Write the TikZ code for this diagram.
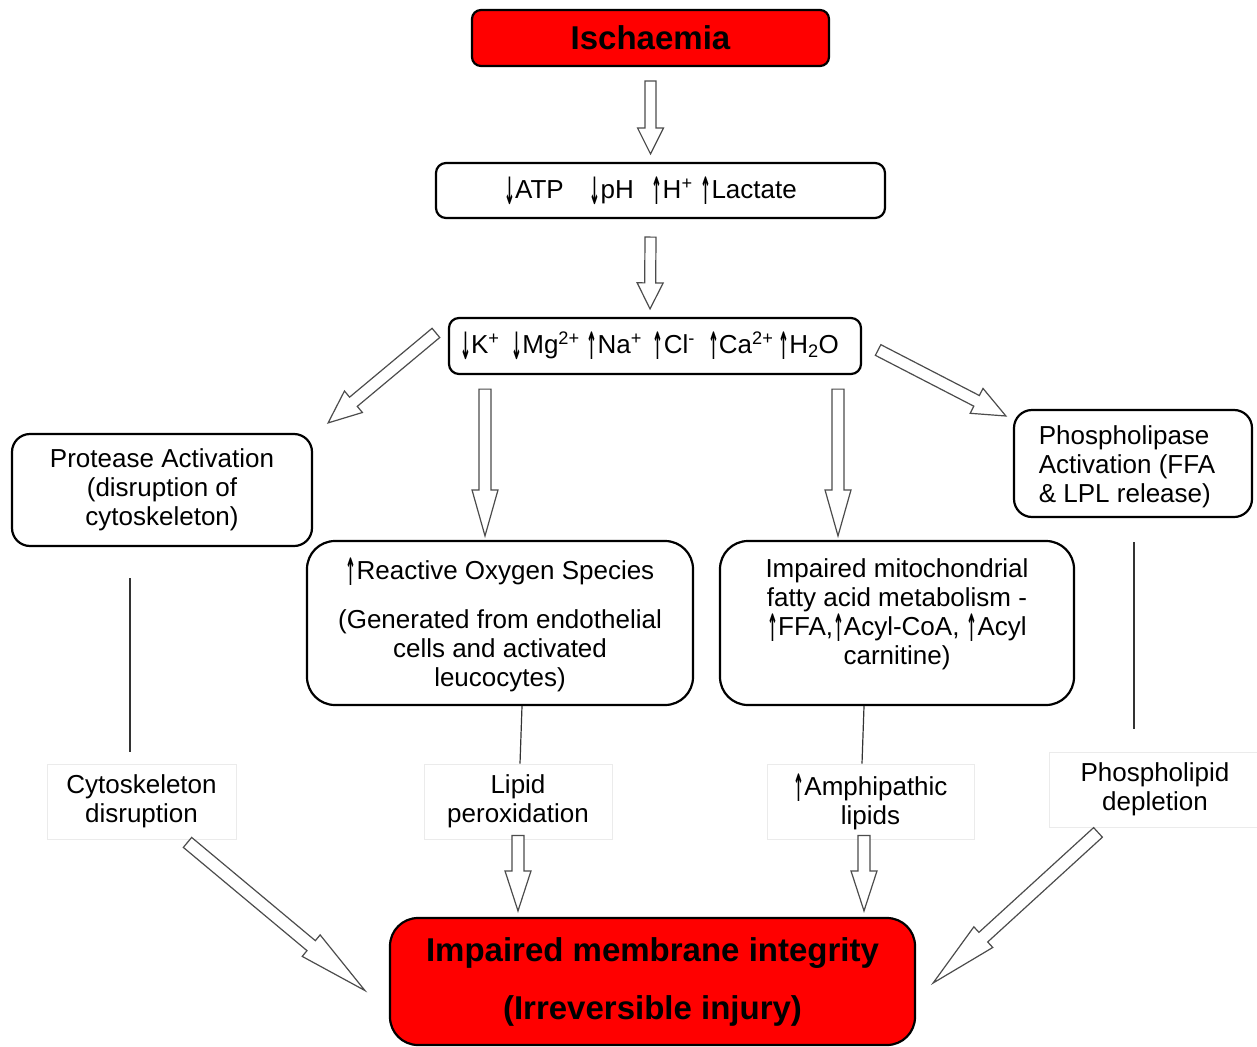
\documentclass[tikz,border=0pt]{standalone}
\usepackage{fontspec}
\setmainfont{Liberation Sans}
\newfontfamily\arrfont{DejaVu Sans}
\usepackage{graphicx}
\usetikzlibrary{calc}
\newcommand\ua{\raisebox{-6pt}{\scalebox{0.5}[1.45]{\arrfont\bfseries ↑}}}
\newcommand\da{\raisebox{-6pt}{\scalebox{0.5}[1.45]{\arrfont\bfseries ↓}}}
\newcommand\nf{\fontsize{26}{29}\selectfont}
\newcommand\bfnt{\fontsize{33}{38}\selectfont\bfseries}
\begin{document}
\begin{tikzpicture}[x=1pt,y=-1pt,
  rbox/.style={draw=black, line width=2.2pt, rounded corners=#1, fill=white, align=center, inner sep=0pt, font=\nf},
  rbox/.default=12pt,
  lbox/.style={draw=black!8, line width=0.8pt, fill=white, align=center, inner sep=0pt, font=\nf},
  conn/.style={draw=black!80, line width=1.2pt},
  blk/.style n args={3}{draw=black!70, line width=1.2pt, fill=white, line join=miter,
    to path={let \p1=(\tikztostart), \p2=(\tikztotarget), \p3=($(\p2)!#3!(\p1)$) in
      ($(\p1)!#1!90:(\p2)$) -- ($(\p3)!#1!-90:(\p1)$) -- ($(\p3)!#2!-90:(\p1)$) -- (\p2)
      -- ($(\p3)!#2!90:(\p1)$) -- ($(\p3)!#1!90:(\p1)$) -- ($(\p1)!#1!-90:(\p2)$) -- cycle}}
]
\clip (0,0) rectangle (1257,1046);
\fill[white] (0,0) rectangle (1257,1046);

% main boxes
\node[rbox=9pt, fill=red, minimum width=357pt, minimum height=56pt, font=\bfnt] (isch) at (650.5,38) {Ischaemia};
\node[rbox=10pt, minimum width=449pt, minimum height=55pt] (atp) at (660.5,190.5)
  {\da ATP\hspace{26pt}\da pH\hspace{18pt}\ua H\textsuperscript{+}\hspace{8pt}\ua Lactate\hspace{20pt}};
\node[rbox=10pt, minimum width=412pt, minimum height=56pt] (ion) at (655,346)
  {\da K\textsuperscript{+}\hspace{12pt}\da Mg\textsuperscript{2+}\hspace{7pt}\ua Na\textsuperscript{+}\hspace{11pt}\ua Cl\textsuperscript{-}\hspace{13pt}\ua Ca\textsuperscript{2+}\hspace{5pt}\ua H\textsubscript{2}O\hspace{11pt}};

\node[rbox=18pt, minimum width=300pt, minimum height=112pt] (prot) at (162,490)
  {Protease Activation\\(disruption of\\cytoskeleton)};
\node[rbox=28pt, minimum width=386pt, minimum height=164pt] (ros) at (500,623) {};
\node[align=center, font=\nf, inner sep=0pt] (rostxt) at (500,625)
  {\ua Reactive Oxygen Species\\[20pt](Generated from endothelial\\cells and activated\\leucocytes)};
\node[rbox=28pt, minimum width=354pt, minimum height=164pt] (mito) at (897,623) {};
\node[align=center, font=\nf, inner sep=0pt] (mitotxt) at (897,614)
  {Impaired mitochondrial\\fatty acid metabolism -\\\ua FFA,\ua Acyl-CoA, \ua Acyl\\carnitine)};
\node[rbox=18pt, minimum width=238pt, minimum height=107pt] (phos) at (1133,463.5) {};
\node[align=left, font=\nf, inner sep=0pt] (phostxt) at (1127,467)
  {Phospholipase\\Activation (FFA\\\& LPL release)};

% outcome labels
\node[lbox, minimum width=189pt, minimum height=75pt] (cyto) at (141.5,801.5) {Cytoskeleton\\disruption};
\node[lbox, minimum width=188pt, minimum height=75pt] (lipid) at (518,801.5) {Lipid\\peroxidation};
\node[lbox, minimum width=207pt, minimum height=75pt] (amph) at (870.5,801.5) {\ua Amphipathic\\lipids};
\node[lbox, minimum width=212pt, minimum height=75pt] (phdep) at (1155,789.5) {Phospholipid\\depletion};

\node[rbox=28pt, fill=red, minimum width=525pt, minimum height=127pt, font=\bfnt] (final) at (652.5,981.5)
  {Impaired membrane integrity\\[20pt](Irreversible injury)};

% connector end points
\coordinate (a1s) at ([yshift=-14pt]isch.south);
\coordinate (a1e) at ([xshift=-10pt,yshift=8pt]atp.north);
\coordinate (a2s) at ([xshift=-10pt,yshift=-18pt]atp.south);
\coordinate (a2e) at ([xshift=-5pt,yshift=8pt]ion.north);
\coordinate (a3s) at ([xshift=-12pt,yshift=-16pt]ion.north west);
\coordinate (a3e) at ([xshift=15pt,yshift=10pt]prot.north east);
\coordinate (a4s) at ([xshift=-170pt,yshift=-14pt]ion.south);
\coordinate (a4e) at ([xshift=-15pt,yshift=4pt]ros.north);
\coordinate (a5s) at ([xshift=183pt,yshift=-14pt]ion.south);
\coordinate (a5e) at ([xshift=-59pt,yshift=4pt]mito.north);
\coordinate (a6s) at ([xshift=16pt,yshift=-4pt]ion.east);
\coordinate (a6e) at ([xshift=-7pt,yshift=47.5pt]phos.west);
\coordinate (a7s) at ([xshift=46pt,yshift=-3pt]cyto.south);
\coordinate (a7e) at ([xshift=-24pt,yshift=-9pt]final.west);
\coordinate (a8s) at ([yshift=4pt]lipid.south);
\coordinate (a8e) at ([xshift=-134.5pt,yshift=6pt]final.north);
\coordinate (a9s) at ([xshift=-6.5pt,yshift=4pt]amph.south);
\coordinate (a9e) at ([xshift=211.5pt,yshift=6pt]final.north);
\coordinate (a10s) at ([xshift=-57pt,yshift=-5pt]phdep.south);
\coordinate (a10e) at ([xshift=17pt,yshift=-1.5pt]final.east);

% block arrows
\draw[blk={5.5pt}{13pt}{26pt}] (a1s) to (a1e);
\draw[blk={5.5pt}{13pt}{26pt}] (a2s) to (a2e);
\draw[blk={6pt}{14pt}{33pt}] (a3s) to (a3e);
\draw[blk={6pt}{13pt}{46pt}] (a4s) to (a4e);
\draw[blk={6pt}{13pt}{46pt}] (a5s) to (a5e);
\draw[blk={6pt}{14pt}{33pt}] (a6s) to (a6e);
\draw[blk={6.5pt}{14pt}{70pt}] (a7s) to (a7e);
\draw[blk={6pt}{13pt}{40pt}] (a8s) to (a8e);
\draw[blk={6pt}{13pt}{40pt}] (a9s) to (a9e);
\draw[blk={6.5pt}{14pt}{68pt}] (a10s) to (a10e);

% thin connectors
\draw[conn] ([xshift=-32pt,yshift=-31pt]prot.south) -- ([xshift=-11.5pt,yshift=12pt]cyto.north);
\draw[conn] ([xshift=22pt]ros.south) -- ([xshift=2pt]lipid.north);
\draw[conn] ([xshift=-33pt]mito.south) -- ([xshift=-8.5pt]amph.north);
\draw[conn] ([xshift=1pt,yshift=-24pt]phos.south) -- ([xshift=-21pt,yshift=23pt]phdep.north);
\end{tikzpicture}
\end{document}
